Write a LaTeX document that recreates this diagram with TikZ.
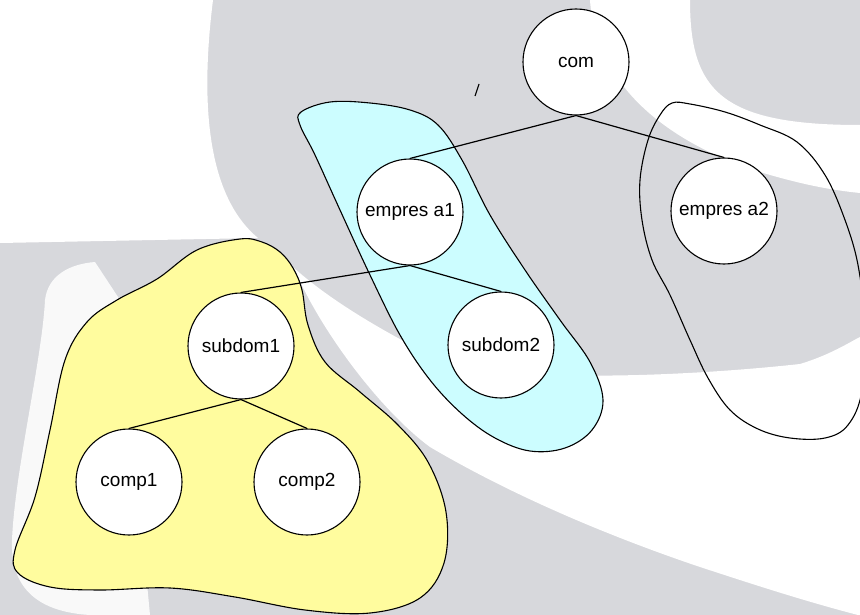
\documentclass[tikz,border=0pt]{standalone}
\usepackage{fontspec}
\setmainfont{Liberation Sans}
\definecolor{bggrey}{RGB}{215,216,220}
\definecolor{zonecyan}{RGB}{204,253,255}
\definecolor{zoneyellow}{RGB}{255,252,158}
\begin{document}
\begin{tikzpicture}[x=1pt,y=-1pt,
  dom/.style={circle,draw=black,fill=white,line width=1.1pt,
    minimum size=106pt,inner sep=0pt,font=\fontsize{19}{22}\selectfont},
  link/.style={draw=black,line width=1.2pt},
  zone/.style={draw=black,line width=1.1pt}]
\useasboundingbox (0,0) rectangle (860,615);
\clip (0,0) rectangle (860,615);

% backdrop: grey field with white swooshes
\fill[bggrey] (0,0) rectangle (860,615);
\fill[white] (0,0) -- (213,0) .. controls (203,80) and (200,190) .. (258,238)
  -- (0,243) -- cycle;
\fill[white] (590,0) .. controls (595,80) and (660,140) .. (760,172)
  .. controls (800,184) and (830,190) .. (860,193) -- (860,125)
  .. controls (720,125) and (690,90) .. (690,0) -- cycle;
\fill[white] (294,268) .. controls (330,300) and (380,330) .. (440,360)
  .. controls (520,385) and (700,375) .. (800,364)
  .. controls (830,355) and (850,342) .. (860,337) -- (860,615) -- (858,615)
  .. controls (800,600) and (740,580) .. (700,567)
  .. controls (620,540) and (520,500) .. (430,447)
  .. controls (380,410) and (320,330) .. (294,268) -- cycle;
\fill[white,opacity=0.85] (95,262) .. controls (70,264) and (48,275) .. (45,300)
  .. controls (42,360) and (15,470) .. (12,540)
  .. controls (10,590) and (40,612) .. (90,615) -- (150,615) -- (120,300) -- cycle;

% domain zones
\filldraw[zone,fill=zoneyellow] plot[smooth cycle,tension=0.6] coordinates
  {(240,239) (262,242) (280,252) (293,268) (302,290) (308,325) (325,362)
   (360,392) (398,425) (428,462) (446,512) (444,563) (420,598) (370,613)
   (305,610) (235,597) (170,588) (100,590) (50,587) (18,573) (15,550)
   (35,497) (50,430) (65,360) (87,322) (117,300) (157,279) (197,250)};
\filldraw[zone,fill=zonecyan] plot[smooth cycle,tension=0.6] coordinates
  {(301,112) (330,102) (370,103) (410,110) (438,125) (462,160) (490,215)
   (525,270) (560,320) (590,362) (603,400) (592,430) (565,448) (530,451)
   (495,438) (462,414) (430,380) (400,335) (370,275) (340,210) (315,155)
   (300,125)};
\draw[zone] plot[smooth cycle,tension=0.6] coordinates
  {(672,103) (690,104) (725,112) (760,125) (797,142) (825,175) (845,220)
   (858,265) (864,320) (862,390) (848,425) (825,438) (790,438) (758,429)
   (730,410) (708,378) (690,340) (670,295) (652,260) (642,220) (640,180)
   (648,140) (660,115)};

% stray pen mark
\draw[line width=1.1pt] (479,84) -- (475,96);

% domain tree
\node[dom] (com) at (576,62) {com};
\node[dom] (e1) at (410,212) {empres a1};
\node[dom] (e2) at (724,211) {empres a2};
\node[dom] (s1) at (241,346) {subdom1};
\node[dom] (s2) at (501,345) {subdom2};
\node[dom] (c1) at (129,482) {comp1};
\node[dom] (c2) at (307,482) {comp2};

\draw[link] (com.south) -- (e1.north);
\draw[link] (com.south) -- (e2.north);
\draw[link] (e1.south) -- (s1.north);
\draw[link] (e1.south) -- (s2.north);
\draw[link] (s1.south) -- (c1.north);
\draw[link] (s1.south) -- (c2.north);
\end{tikzpicture}
\end{document}
